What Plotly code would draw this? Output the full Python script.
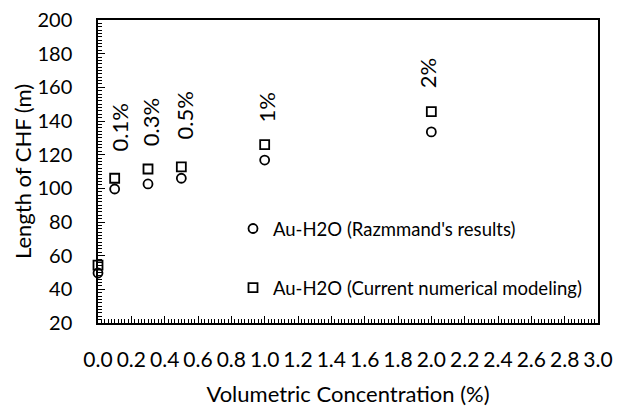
import plotly.graph_objects as go

conc = [0.0, 0.1, 0.3, 0.5, 1.0, 2.0]
razmmand = [49.7, 99.6, 102.6, 106, 116.8, 133.5]
current = [54.4, 106, 111.5, 112.7, 126, 145.6]
label_text = ["0.1%", "0.3%", "0.5%", "1%", "2%"]
label_x = [0.129, 0.315, 0.519, 1.011, 1.977]
label_y = [135.8, 139, 143, 147.7, 168]
x_ticks = [round(0.2 * i, 1) for i in range(16)]
y_ticks = list(range(20, 201, 20))

font = "Lato, Open Sans, sans-serif"

fig = go.Figure()
fig.add_trace(go.Scatter(
    x=conc, y=razmmand, mode="markers", name="Au-H2O (Razmmand's results)",
    legendgroup="a", cliponaxis=False,
    marker=dict(symbol="circle-open", size=9, color="black", line=dict(width=1.8))))
fig.add_trace(go.Scatter(
    x=conc, y=current, mode="markers", name="Au-H2O (Current numerical modeling)",
    legendgroup="b", cliponaxis=False,
    marker=dict(symbol="square-open", size=9, color="black", line=dict(width=1.8))))

for t, xx, yy in zip(label_text, label_x, label_y):
    fig.add_annotation(x=xx, y=yy, text=t, showarrow=False, textangle=-90,
                       font=dict(family=font, size=22, color="black"))

fig.update_layout(
    width=627, height=407,
    margin=dict(l=98, r=29, t=20, b=84),
    paper_bgcolor="white", plot_bgcolor="white",
    font=dict(family=font, color="black"),
    showlegend=True,
    legend=dict(x=0.27, y=0.213, xanchor="left", yanchor="middle",
                bgcolor="rgba(0,0,0,0)", tracegroupgap=32,
                font=dict(family=font, size=18.5, color="black"),
                itemwidth=30),
)
fig.update_xaxes(
    range=[0, 3.0], tickvals=x_ticks, ticktext=[f"{v:.1f}" for v in x_ticks],
    automargin=False,
    showgrid=False, zeroline=False, showline=True, linecolor="black", linewidth=1.5,
    mirror=True, ticks="inside", ticklen=7, tickcolor="black",
    minor=dict(dtick=0.02, ticks="inside", ticklen=4, tickcolor="black"),
    tickfont=dict(family=font, size=21), ticklabelstandoff=17,
    title=dict(text="Volumetric Concentration (%)", font=dict(family=font, size=22), standoff=23),
)
fig.update_yaxes(
    range=[20, 200], tickvals=y_ticks,
    automargin=False,
    showgrid=False, zeroline=False, showline=True, linecolor="black", linewidth=1.5,
    mirror=True, ticks="inside", ticklen=7, tickcolor="black",
    minor=dict(dtick=2, ticks="inside", ticklen=4, tickcolor="black"),
    tickfont=dict(family=font, size=20), ticklabelstandoff=20,
    title=dict(text="Length of CHF (m)", font=dict(family=font, size=22), standoff=0),
)

fig.write_html("out.html")
